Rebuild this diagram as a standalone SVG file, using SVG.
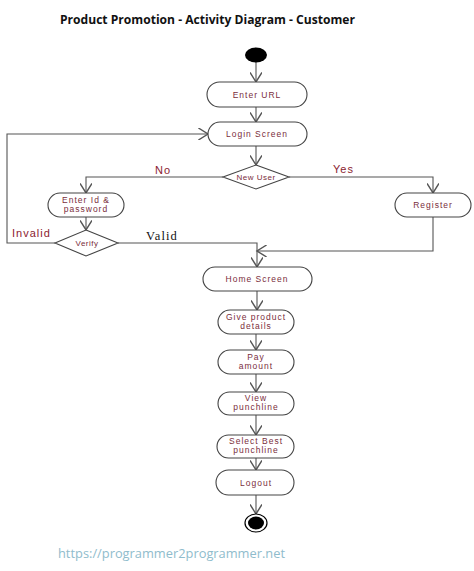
<svg xmlns="http://www.w3.org/2000/svg" width="474" height="571" viewBox="0 0 474 571">
<defs>
<marker id="arr" markerUnits="userSpaceOnUse" markerWidth="12" markerHeight="12" refX="8" refY="5" orient="auto" viewBox="0 0 10 10">
<path d="M0,0 L8,5 L0,10" fill="none" stroke="#555" stroke-width="1.2"/>
</marker>
<style>
.node{fill:#fff;stroke:#444;stroke-width:1.1}
.lbl{font-family:"Liberation Sans",Arial,sans-serif;font-size:8.5px;fill:#7a2e3c;text-anchor:middle;letter-spacing:1px}
.dlbl{font-family:"Liberation Sans",Arial,sans-serif;font-size:8px;fill:#7a2e3c;text-anchor:middle;letter-spacing:0.5px}
.edge{fill:none;stroke:#555;stroke-width:1.1;marker-end:url(#arr)}
.guard{font-family:"Liberation Sans",Arial,sans-serif;font-size:11px;fill:#8b2230;letter-spacing:1px}
</style>
</defs>
<rect width="474" height="571" fill="#fff"/>
<text x="60" y="24" font-family="'Open Sans',sans-serif" font-weight="bold" font-size="13" fill="#111" textLength="295" lengthAdjust="spacingAndGlyphs">Product Promotion - Activity Diagram - Customer</text>

<g id="connectors">
<path class="edge" d="M256,62 L256,82"/>
<path class="edge" d="M256,107 L256,122"/>
<path class="edge" d="M256,146 L256,165"/>
<path class="edge" d="M223,177 L86,177 L86,193"/>
<path class="edge" d="M289,177 L433,177 L433,193"/>
<path class="edge" d="M86,217 L86,230"/>
<path class="edge" d="M55,243 L7,243 L7,134 L208,134"/>
<path class="edge" d="M118,243 L257,243 L257,267"/>
<path class="edge" d="M433,217 L433,251 L257,251"/>
<path class="edge" d="M257,291 L257,310"/>
<path class="edge" d="M256,334 L256,350"/>
<path class="edge" d="M256,374 L256,392"/>
<path class="edge" d="M256,415 L256,435"/>
<path class="edge" d="M256,458 L256,470"/>
<path class="edge" d="M256,495 L256,514"/>
<text class="guard" x="155" y="174">No</text>
<text class="guard" x="333" y="173">Yes</text>
<text class="guard" x="12" y="237">Invalid</text>
<text x="146" y="240" font-family="'Liberation Serif',serif" font-size="12.5" fill="#111" letter-spacing="1.1">Valid</text>
</g>

<g id="start"><ellipse cx="256" cy="55" rx="11" ry="7.5" fill="#000"/></g>
<g id="enter-url"><rect class="node" x="207" y="82" width="100" height="25" rx="12.5"/><text class="lbl" x="257" y="97.5">Enter URL</text></g>
<g id="login-screen"><rect class="node" x="208" y="122" width="99" height="24" rx="12"/><text class="lbl" x="257" y="137">Login Screen</text></g>
<g id="new-user"><polygon class="node" points="256,165 289,177 256,189 223,177"/><text class="dlbl" x="256" y="180">New User</text></g>
<g id="enter-id"><rect class="node" x="48" y="193" width="76" height="24" rx="12"/><text class="lbl" x="86" y="203">Enter Id &amp;</text><text class="lbl" x="86" y="212">password</text></g>
<g id="register"><rect class="node" x="395" y="193" width="76" height="24" rx="12"/><text class="lbl" x="433" y="208">Register</text></g>
<g id="verify"><polygon class="node" points="86,230 118,243 86,256 55,243"/><text class="dlbl" x="87" y="246">Verify</text></g>
<g id="home-screen"><rect class="node" x="203" y="267" width="109" height="24" rx="12"/><text class="lbl" x="257" y="282">Home Screen</text></g>
<g id="give-product"><rect class="node" x="218" y="310" width="76" height="24" rx="12"/><text class="lbl" x="256" y="320">Give product</text><text class="lbl" x="256" y="329">details</text></g>
<g id="pay-amount"><rect class="node" x="218" y="350" width="76" height="24" rx="12"/><text class="lbl" x="256" y="360">Pay</text><text class="lbl" x="256" y="369">amount</text></g>
<g id="view-punchline"><rect class="node" x="218" y="392" width="76" height="23" rx="11.5"/><text class="lbl" x="256" y="401">View</text><text class="lbl" x="256" y="410">punchline</text></g>
<g id="select-best"><rect class="node" x="217" y="435" width="77" height="23" rx="11.5"/><text class="lbl" x="256" y="444">Select Best</text><text class="lbl" x="256" y="453">punchline</text></g>
<g id="logout"><rect class="node" x="216" y="470" width="78" height="25" rx="12.5"/><text class="lbl" x="256" y="486">Logout</text></g>
<g id="end"><ellipse cx="256" cy="523" rx="11" ry="9" fill="#fff" stroke="#000" stroke-width="1.2"/><ellipse cx="256" cy="523" rx="8" ry="6.5" fill="#000"/></g>

<text x="58" y="558" font-family="'Open Sans',sans-serif" font-size="13" fill="#8fbccc" textLength="227" lengthAdjust="spacingAndGlyphs">https://programmer2programmer.net</text>
</svg>
